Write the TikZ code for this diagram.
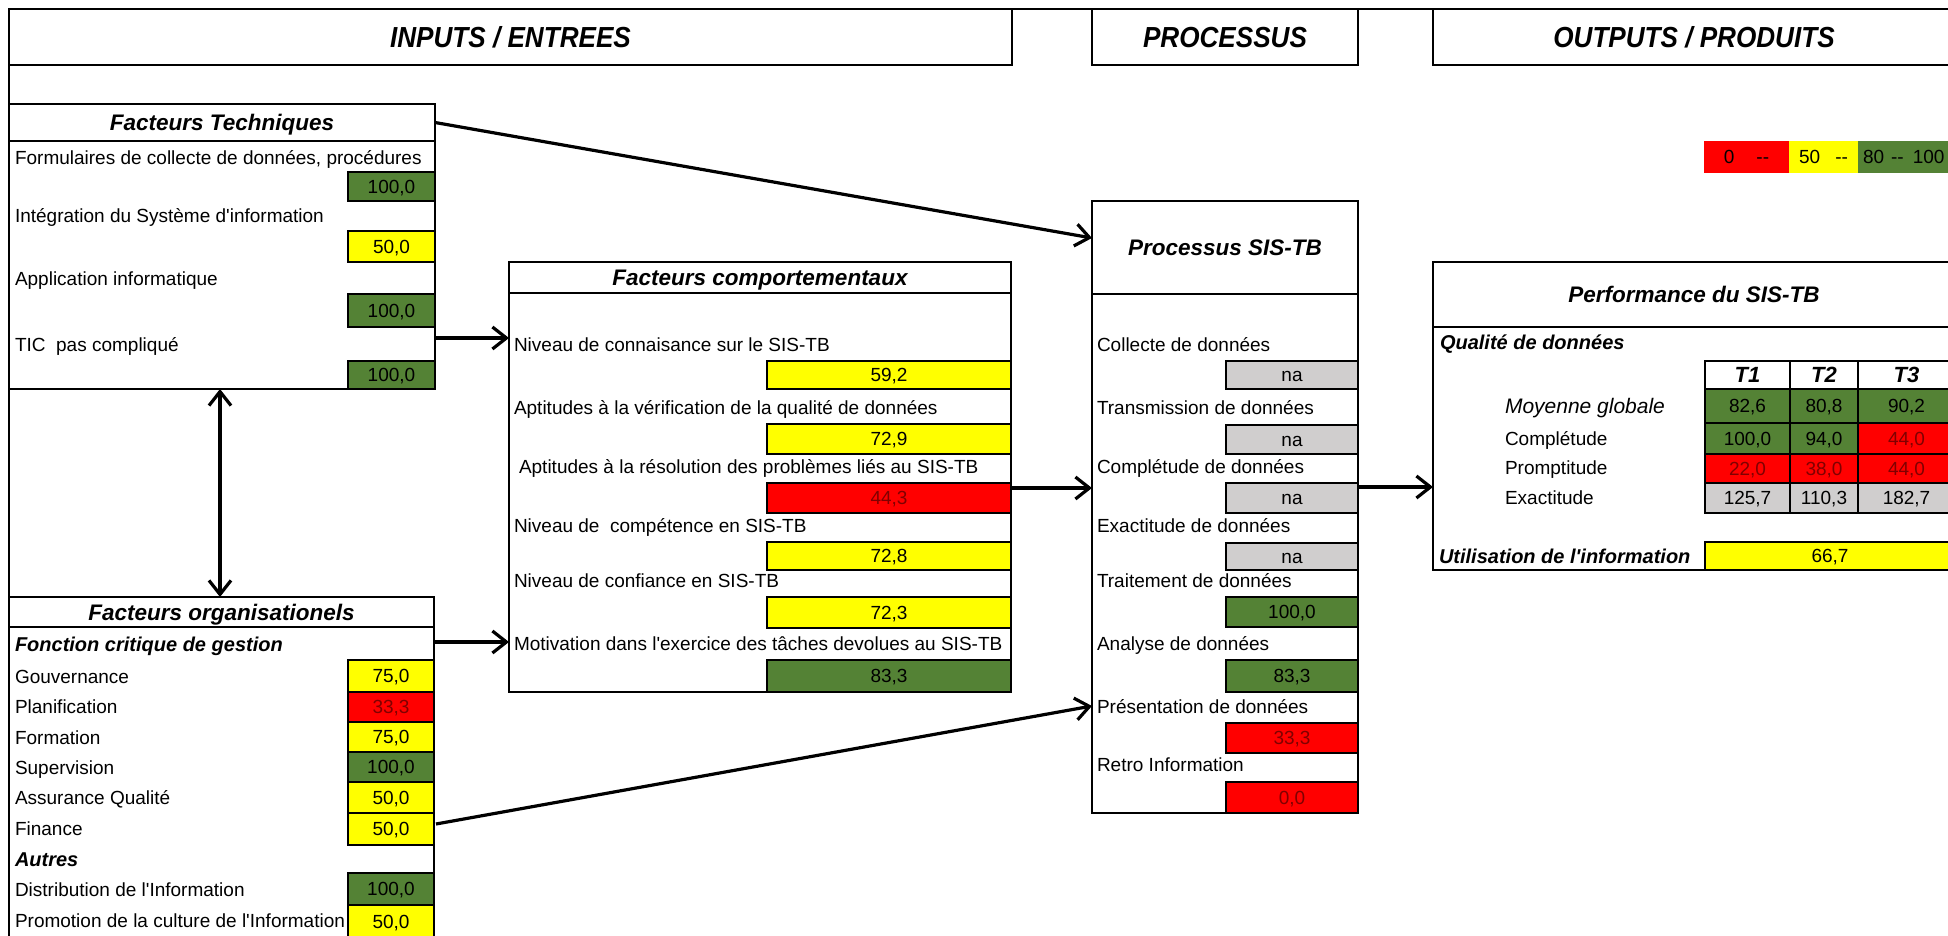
\documentclass[tikz,border=0pt]{standalone}
\usepackage{fontspec}
\usepackage{graphicx}
\setmainfont{Liberation Sans}
\usetikzlibrary{arrows.meta}
\definecolor{vgreen}{RGB}{84,130,53}
\definecolor{vred}{RGB}{255,0,0}
\definecolor{vyel}{RGB}{255,255,0}
\definecolor{vgray}{RGB}{208,206,206}
\definecolor{vdred}{RGB}{128,0,0}
\newcommand\ap{\textquotesingle}
\newcommand\cellnode[7]{\node[#6,anchor=north west,minimum width={(#4-#2)*0.5pt},minimum height={(#5-#3)*0.5pt}] (#1) at (#2,#3) {#7};}
\tikzset{
  base/.style={inner sep=0pt,outer sep=0pt,line width=1.1pt,font=\fontsize{9.5}{11}\selectfont,text height=6.8pt,text depth=0pt},
  box/.style={base,draw,fill=white},
  hdr/.style={box,font=\fontsize{14.5}{16}\selectfont\bfseries\itshape,text height=10.4pt},
  ttl/.style={box,font=\fontsize{11.25}{13}\selectfont\bfseries\itshape,text height=8pt},
  thd/.style={box,font=\fontsize{11}{13}\selectfont\bfseries\itshape,text height=7.9pt},
  gcell/.style={base,draw,fill=vgreen},
  ycell/.style={base,draw,fill=vyel},
  rcell/.style={base,draw,fill=vred,text=vdred},
  ncell/.style={base,draw,fill=vgray},
  lbl/.style={base,anchor=west},
  sub/.style={lbl,font=\fontsize{10}{12}\selectfont\bfseries\itshape,text height=7.2pt},
  arr/.style={line width=1.6pt,-{Straight Barb[length=7pt,width=11pt]}},
  darr/.style={line width=1.6pt,{Straight Barb[length=7pt,width=11pt]}-{Straight Barb[length=7pt,width=11pt]}},
  frame/.style={line width=1.1pt}
}
\begin{document}
\begin{tikzpicture}[x=0.5pt,y=-0.5pt]
\path[use as bounding box] (0,0) rectangle (1948,936);
\clip (0,0) rectangle (1948,936);
\fill[white] (0,0) rectangle (1948,936);

% headers
\cellnode{hin}{9}{9}{1012}{65}{hdr}{\scalebox{0.9}[1]{INPUTS / ENTREES}}
\cellnode{hpr}{1092}{9}{1358}{65}{hdr}{\scalebox{0.9}[1]{PROCESSUS}}
\cellnode{hout}{1433}{9}{1955}{65}{hdr}{\scalebox{0.9}[1]{OUTPUTS / PRODUITS}}
\draw[frame] (hin.north west) -- (hout.north east);
\draw[frame] (hin.north west) -- (9,945);

% Facteurs Techniques
\cellnode{ft}{9}{104}{435}{389}{box}{}
\cellnode{ftt}{9}{104}{435}{141}{ttl}{Facteurs Techniques}
\node[lbl] (ft1) at (15,158) {Formulaires de collecte de données, procédures};
\cellnode{ftv1}{348}{172}{435}{201}{gcell}{100,0}
\node[lbl] (ft2) at (15,216) {Intégration du Système d\ap information};
\cellnode{ftv2}{348}{231}{435}{262}{ycell}{50,0}
\node[lbl] (ft3) at (15,279) {Application informatique};
\cellnode{ftv3}{348}{294}{435}{327}{gcell}{100,0}
\node[lbl] (ft4) at (15,345) {TIC\ \ pas compliqué};
\cellnode{ftv4}{348}{361}{435}{389}{gcell}{100,0}

% Facteurs organisationels
\cellnode{org}{9}{597}{434}{945}{box}{}
\cellnode{orgt}{9}{597}{434}{627}{ttl}{Facteurs organisationels}
\node[sub] (og0) at (15,644) {Fonction critique de gestion};
\node[lbl] (og1) at (15,677) {Gouvernance};
\cellnode{ogv1}{348}{660}{434}{692}{ycell}{75,0}
\node[lbl] (og2) at (15,707) {Planification};
\cellnode{ogv2}{348}{692}{434}{722}{rcell}{33,3}
\node[lbl] (og3) at (15,738) {Formation};
\cellnode{ogv3}{348}{722}{434}{752}{ycell}{75,0}
\node[lbl] (og4) at (15,768) {Supervision};
\cellnode{ogv4}{348}{752}{434}{782}{gcell}{100,0}
\node[lbl] (og5) at (15,798) {Assurance Qualité};
\cellnode{ogv5}{348}{782}{434}{813}{ycell}{50,0}
\node[lbl] (og6) at (15,829) {Finance};
\cellnode{ogv6}{348}{813}{434}{845}{ycell}{50,0}
\node[sub] (og7) at (15,859) {Autres};
\node[lbl] (og8) at (15,890) {Distribution de l\ap Information};
\cellnode{ogv8}{348}{873}{434}{905}{gcell}{100,0}
\node[lbl] (og9) at (15,921) {Promotion de la culture de l\ap Information};
\cellnode{ogv9}{348}{905}{434}{938}{ycell}{50,0}

% Facteurs comportementaux
\cellnode{fc}{509}{262}{1011}{692}{box}{}
\cellnode{fct}{509}{262}{1011}{293}{ttl}{Facteurs comportementaux}
\node[lbl] (fc1) at (514,345) {Niveau de connaisance sur le SIS-TB};
\cellnode{fcv1}{767}{361}{1011}{389}{ycell}{59,2}
\node[lbl] (fc2) at (514,408) {Aptitudes à la vérification de la qualité de données};
\cellnode{fcv2}{767}{424}{1011}{454}{ycell}{72,9}
\node[lbl] (fc3) at (519,467) {Aptitudes à la résolution des problèmes liés au SIS-TB};
\cellnode{fcv3}{767}{483}{1011}{513}{rcell}{44,3}
\node[lbl] (fc4) at (514,526) {Niveau de\ \ compétence en SIS-TB};
\cellnode{fcv4}{767}{542}{1011}{570}{ycell}{72,8}
\node[lbl] (fc5) at (514,581) {Niveau de confiance en SIS-TB};
\cellnode{fcv5}{767}{597}{1011}{628}{ycell}{72,3}
\node[lbl] (fc6) at (514,644) {Motivation dans l\ap exercice des tâches devolues au SIS-TB};
\cellnode{fcv6}{767}{660}{1011}{692}{gcell}{83,3}

% Processus
\cellnode{pr}{1092}{201}{1358}{813}{box}{}
\cellnode{prt}{1092}{201}{1358}{294}{ttl}{Processus SIS-TB}
\node[lbl] (pr1) at (1097,345) {Collecte de données};
\cellnode{prv1}{1226}{361}{1358}{389}{ncell}{na}
\node[lbl] (pr2) at (1097,408) {Transmission de données};
\cellnode{prv2}{1226}{425}{1358}{454}{ncell}{na}
\node[lbl] (pr3) at (1097,467) {Complétude de données};
\cellnode{prv3}{1226}{483}{1358}{513}{ncell}{na}
\node[lbl] (pr4) at (1097,526) {Exactitude de données};
\cellnode{prv4}{1226}{543}{1358}{570}{ncell}{na}
\node[lbl] (pr5) at (1097,581) {Traitement de données};
\cellnode{prv5}{1226}{597}{1358}{627}{gcell}{100,0}
\node[lbl] (pr6) at (1097,644) {Analyse de données};
\cellnode{prv6}{1226}{660}{1358}{692}{gcell}{83,3}
\node[lbl] (pr7) at (1097,707) {Présentation de données};
\cellnode{prv7}{1226}{723}{1358}{753}{rcell}{33,3}
\node[lbl] (pr8) at (1097,765) {Retro Information};
\cellnode{prv8}{1226}{782}{1358}{813}{rcell}{0,0}

% Legend
\cellnode{lr}{1704}{141}{1789}{173}{base,fill=vred}{0\hspace{11pt}-{}-}
\cellnode{ly}{1789}{141}{1858}{173}{base,fill=vyel}{50\hspace{7.5pt}-{}-}
\cellnode{lg}{1858}{141}{1960}{173}{base,fill=vgreen}{}
\node[lbl] (lgt) at (1863,157) {80\hspace{3.5pt}-{}-\hspace{4.5pt}100};

% Performance
\cellnode{pf}{1433}{262}{1955}{570}{box}{}
\cellnode{pft}{1433}{262}{1955}{327}{ttl}{Performance du SIS-TB}
\node[sub] (qd) at (1440,342) {Qualité de données};
\cellnode{t1}{1705}{361}{1790}{389}{thd}{T1}
\cellnode{t2}{1790}{361}{1858}{389}{thd}{T2}
\cellnode{t3}{1858}{361}{1955}{389}{thd}{T3}
\node[lbl,font=\fontsize{10.5}{12}\selectfont\itshape] (m0) at (1505,407) {Moyenne globale};
\cellnode{m1}{1705}{389}{1790}{423}{gcell}{82,6}
\cellnode{m2}{1790}{389}{1858}{423}{gcell}{80,8}
\cellnode{m3}{1858}{389}{1955}{423}{gcell}{90,2}
\node[lbl] (c0) at (1505,439) {Complétude};
\cellnode{c1}{1705}{423}{1790}{454}{gcell}{100,0}
\cellnode{c2}{1790}{423}{1858}{454}{gcell}{94,0}
\cellnode{c3}{1858}{423}{1955}{454}{rcell}{44,0}
\node[lbl] (p0) at (1505,468) {Promptitude};
\cellnode{p1}{1705}{454}{1790}{483}{rcell}{22,0}
\cellnode{p2}{1790}{454}{1858}{483}{rcell}{38,0}
\cellnode{p3}{1858}{454}{1955}{483}{rcell}{44,0}
\node[lbl] (e0) at (1505,498) {Exactitude};
\cellnode{e1}{1705}{483}{1790}{513}{ncell}{125,7}
\cellnode{e2}{1790}{483}{1858}{513}{ncell}{110,3}
\cellnode{e3}{1858}{483}{1955}{513}{ncell}{182,7}
\node[sub] (ut) at (1439,556) {Utilisation de l\ap information};
\cellnode{utv}{1705}{542}{1955}{570}{ycell}{66,7}

% connectors
\draw[arr] (ftt.east) -- (pr.west |- 0,238);
\draw[arr] (ft.east |- 0,338) -- (fc.west |- 0,338);
\draw[arr] (org.east |- 0,642) -- (fc.west |- 0,642);
\coordinate (fin) at ([xshift=1pt,yshift=2.5pt]ogv6.east);
\draw[arr] (fin) -- (pr.west |- 0,706);
\draw[arr] (fc.east |- 0,488) -- (pr.west |- 0,488);
\draw[arr] (pr.east |- 0,487) -- (pf.west |- 0,487);
\draw[darr] (ft.south -| 220,0) -- (org.north -| 220,0);
\end{tikzpicture}
\end{document}
